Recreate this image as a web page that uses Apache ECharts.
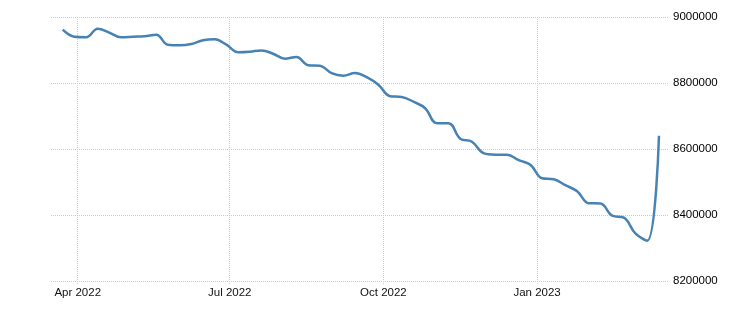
<!DOCTYPE html>
<html>
<head>
<meta charset="utf-8">
<script src="https://cdn.jsdelivr.net/npm/echarts@6/dist/echarts.min.js"></script>
<style>
  html, body { margin: 0; padding: 0; background: #fff; }
  #chart { width: 756px; height: 316px; }
</style>
</head>
<body>
<div id="chart"></div>
<script>
// Weekly observation dates
const dates = [
  '2022-03-23','2022-03-30','2022-04-06','2022-04-13','2022-04-20','2022-04-27',
  '2022-05-04','2022-05-11','2022-05-18','2022-05-25','2022-06-01','2022-06-08',
  '2022-06-15','2022-06-22','2022-06-29','2022-07-06','2022-07-13','2022-07-20',
  '2022-07-27','2022-08-03','2022-08-10','2022-08-17','2022-08-24','2022-08-31',
  '2022-09-07','2022-09-14','2022-09-21','2022-09-28','2022-10-05','2022-10-12',
  '2022-10-19','2022-10-26','2022-11-02','2022-11-09','2022-11-16','2022-11-23',
  '2022-11-30','2022-12-07','2022-12-14','2022-12-21','2022-12-28','2023-01-04',
  '2023-01-11','2023-01-18','2023-01-25','2023-02-01','2023-02-08','2023-02-15',
  '2023-02-22','2023-03-01','2023-03-08','2023-03-15'
];
// Series values
const values = [
  8961500, 8940300, 8938800, 8964500, 8952400, 8938800,
  8940300, 8941800, 8946400, 8916100, 8914500, 8918200,
  8929700, 8932700, 8916100, 8893300, 8894800, 8898500,
  8888800, 8873600, 8878800, 8853900, 8852400, 8829700,
  8822100, 8830300, 8817600, 8794800, 8760000, 8757600,
  8743300, 8723600, 8678200, 8678200, 8631200, 8622100,
  8587300, 8582700, 8582700, 8566100, 8552400, 8511500,
  8508500, 8490300, 8472100, 8435800, 8434800, 8397900,
  8391800, 8343300, 8322100, 8640300
];
// X tick positions (quarter starts) and their labels
const xTickDates = ['2022-04-01', '2022-07-01', '2022-10-01', '2023-01-01'];
const xTickLabels = ['Apr 2022', 'Jul 2022', 'Oct 2022', 'Jan 2023'];
// Y axis settings
const yMin = 8200000, yMax = 9000000, yStep = 200000;
const xMin = '2022-03-16', xMax = '2023-03-21';

const toTs = s => { const p = s.split('-').map(Number); return Date.UTC(p[0], p[1] - 1, p[2]); };
const xTickTs = xTickDates.map(toTs);
const labelByTs = {};
xTickTs.forEach((t, i) => { labelByTs[t] = xTickLabels[i]; });
const seriesData = dates.map((d, i) => [toTs(d), values[i]]);

const chart = echarts.init(document.getElementById('chart'), null, { renderer: 'canvas' });
chart.setOption({
  animation: false,
  backgroundColor: '#ffffff',
  grid: { left: 51, right: 87, top: 17, bottom: 35, containLabel: false },
  xAxis: {
    type: 'value',
    min: toTs(xMin),
    max: toTs(xMax),
    axisLine: { show: false },
    axisTick: { show: true, length: 3, customValues: xTickTs, lineStyle: { color: '#cccccc', type: 'dotted' } },
    splitLine: { show: true, lineStyle: { color: '#cccccc', type: 'dotted', width: 1 } },
    axisLabel: {
      customValues: xTickTs,
      formatter: v => labelByTs[v] || '',
      color: '#111111',
      fontFamily: 'Liberation Sans',
      fontSize: 11.5,
      margin: 6,
      hideOverlap: false,
      showMinLabel: true,
      showMaxLabel: true
    }
  },
  yAxis: {
    type: 'value',
    position: 'right',
    min: yMin,
    max: yMax,
    interval: yStep,
    axisLine: { show: false },
    axisTick: { show: false },
    splitLine: { show: true, lineStyle: { color: '#cccccc', type: 'dotted', width: 1 } },
    axisLabel: {
      color: '#000000',
      fontFamily: 'Liberation Sans',
      fontSize: 11.5,
      margin: 4,
      formatter: v => String(v)
    }
  },
  series: [{
    type: 'line',
    data: seriesData,
    smooth: 0.4,
    showSymbol: false,
    symbol: 'none',
    lineStyle: { color: '#4682b4', width: 2.5 },
    itemStyle: { color: '#4682b4' }
  }]
});
</script>
</body>
</html>
